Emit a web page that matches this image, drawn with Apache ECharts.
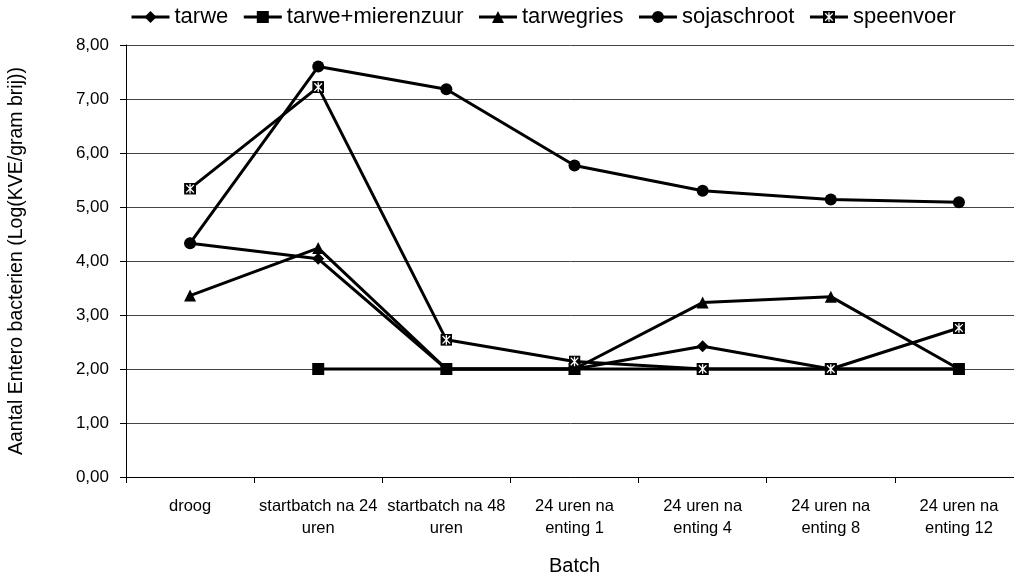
<!DOCTYPE html>
<html>
<head>
<meta charset="utf-8">
<script src="https://cdn.jsdelivr.net/npm/echarts@6/dist/echarts.min.js"></script>
<style>
  html, body { margin: 0; padding: 0; background: #fff; }
  #chart { width: 1014px; height: 576px; }
</style>
</head>
<body>
<div id="chart"></div>
<script>
// Batch moments on the category axis
const categories = [
  'droog',
  'startbatch na 24\nuren',
  'startbatch na 48\nuren',
  '24 uren na\nenting 1',
  '24 uren na\nenting 4',
  '24 uren na\nenting 8',
  '24 uren na\nenting 12'
];

// Log(KVE/gram brij) per feed type
const tarwe            = [4.33, 4.04, 2.00, 2.00, 2.42, 2.00, 2.00];
const tarweMierenzuur  = [null, 2.00, 2.00, 2.00, 2.00, 2.00, 2.00];
const tarwegries       = [3.36, 4.24, 2.00, 2.00, 3.23, 3.34, 2.00];
const sojaschroot      = [4.33, 7.60, 7.18, 5.77, 5.30, 5.14, 5.09];
const speenvoer        = [5.34, 7.22, 2.54, 2.14, 2.00, 2.00, 2.76];

const seriesNames = ['tarwe', 'tarwe+mierenzuur', 'tarwegries', 'sojaschroot', 'speenvoer'];
const yTicks = { min: 0, max: 8, interval: 1 };

// boxed asterisk marker
const boxStar = 'image://data:image/svg+xml;charset=utf-8,' + encodeURIComponent(
  "<svg xmlns='http://www.w3.org/2000/svg' width='24' height='24' viewBox='0 0 12 12'>" +
  "<rect x='0' y='0' width='12' height='12' fill='#000'/>" +
  "<path d='M2.2 2.2L9.8 9.8M9.8 2.2L2.2 9.8M6 1.2V10.8' stroke='#fff' stroke-width='1.3' fill='none'/>" +
  "</svg>");

const font = 'Liberation Sans, Arial, sans-serif';

function lineSeries(name, data, symbol, size) {
  return {
    name: name,
    type: 'line',
    data: data,
    symbol: symbol,
    symbolSize: size,
    showAllSymbol: true,
    connectNulls: false,
    lineStyle: { color: '#000', width: 3 },
    itemStyle: { color: '#000', borderWidth: 0 },
    emphasis: { disabled: true },
    animation: false
  };
}

const chart = echarts.init(document.getElementById('chart'), null, { renderer: 'canvas' });
chart.setOption({
  backgroundColor: '#fff',
  animation: false,
  legend: {
    top: 1,
    left: 125,
    itemWidth: 38,
    itemHeight: 15,
    itemGap: 14,
    lineStyle: { width: 3, color: '#000' },
    textStyle: { fontFamily: font, fontSize: 22, color: '#000' },
    data: seriesNames
  },
  grid: { left: 126, top: 45, width: 897, height: 432, outerBoundsMode: 'none', containLabel: false },
  xAxis: {
    type: 'category',
    data: categories,
    boundaryGap: true,
    name: 'Batch',
    nameLocation: 'middle',
    nameGap: 79,
    nameTextStyle: { fontFamily: font, fontSize: 20, color: '#000' },
    axisLine: { lineStyle: { color: '#000', width: 1 } },
    axisTick: { show: true, length: 6, inside: false, lineStyle: { color: '#000' } },
    axisLabel: { fontFamily: font, fontSize: 16.5, color: '#000', margin: 18, lineHeight: 22, interval: 0 }
  },
  yAxis: {
    type: 'value',
    min: yTicks.min,
    max: yTicks.max,
    interval: yTicks.interval,
    name: 'Aantal Entero bacterien (Log(KVE/gram brij))',
    nameLocation: 'middle',
    nameGap: 99,
    nameTextStyle: { fontFamily: font, fontSize: 19.5, color: '#000' },
    axisLine: { show: true, lineStyle: { color: '#000', width: 1 } },
    axisTick: { show: true, length: 6, lineStyle: { color: '#000' } },
    axisLabel: {
      fontFamily: font, fontSize: 17, color: '#000', margin: 17,
      formatter: v => v.toFixed(2).replace('.', ',')
    },
    splitLine: { show: true, lineStyle: { color: '#444', width: 1 } }
  },
  series: [
    lineSeries('tarwe', tarwe, 'diamond', 12),
    lineSeries('tarwe+mierenzuur', tarweMierenzuur, 'rect', 12),
    lineSeries('tarwegries', tarwegries, 'triangle', 12),
    lineSeries('sojaschroot', sojaschroot, 'circle', 12),
    lineSeries('speenvoer', speenvoer, boxStar, 12)
  ]
});
</script>
</body>
</html>
